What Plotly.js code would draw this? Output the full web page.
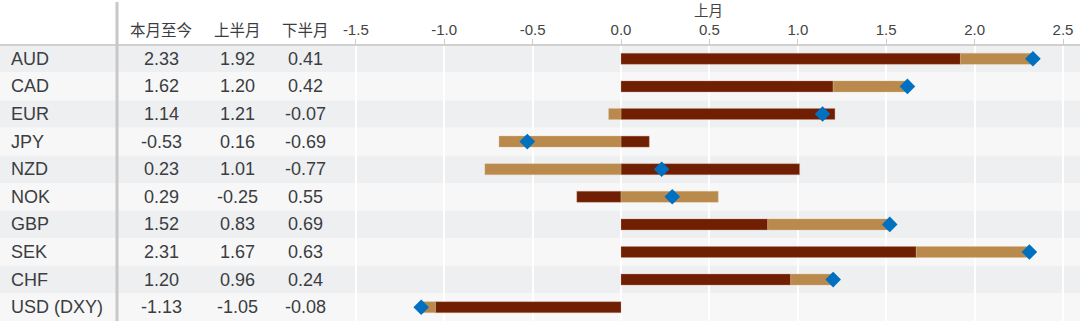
<!DOCTYPE html>
<html>
<head>
<meta charset="utf-8">
<script src="https://cdn.plot.ly/plotly-3.0.1.min.js"></script>
<style>html,body{margin:0;padding:0;background:#fff;}#chart{width:1080px;height:323px;}</style>
</head>
<body>
<div id="chart"></div>
<script>
const currencies = ['AUD','CAD','EUR','JPY','NZD','NOK','GBP','SEK','CHF','USD (DXY)'];
const monthToDate = [2.33, 1.62, 1.14, -0.53, 0.23, 0.29, 1.52, 2.31, 1.20, -1.13];
const firstHalf   = [1.92, 1.20, 1.21, 0.16, 1.01, -0.25, 0.83, 1.67, 0.96, -1.05];
const secondHalf  = [0.41, 0.42, -0.07, -0.69, -0.77, 0.55, 0.69, 0.63, 0.24, -0.08];
const columnHeaders = ['本月至今', '上半月', '下半月'];
const axisTitle = '上月';
const tickValues = [-1.5, -1.0, -0.5, 0.0, 0.5, 1.0, 1.5, 2.0, 2.5];
const tickLabels = ['-1.5', '-1.0', '-0.5', '0.0', '0.5', '1.0', '1.5', '2.0', '2.5'];

const W = 1080, H = 323;
const FONT = 'Liberation Sans, Arial, Noto Sans CJK SC, sans-serif';
const CJK = 'Noto Sans CJK SC, Liberation Sans, sans-serif';
const mT = 45, mB = 2;
const plotH = H - mT - mB;
const px2paperY = p => 1 + (mT - p) / plotH;
const colX = [161, 237, 305];

const traces = [
  {type:'bar', orientation:'h', y: currencies, x: firstHalf, name: columnHeaders[1],
   marker:{color:'#701f03', line:{color:'rgba(200,150,130,0.6)', width:0.6}}, width:0.4, hoverinfo:'skip'},
  {type:'bar', orientation:'h', y: currencies, x: secondHalf, name: columnHeaders[2],
   marker:{color:'#b98a4b', line:{color:'rgba(220,190,150,0.6)', width:0.6}}, width:0.4, hoverinfo:'skip'},
  {type:'scatter', mode:'markers', y: currencies, x: monthToDate, name: columnHeaders[0],
   marker:{symbol:'diamond', size:12, color:'#0070c0'}, hoverinfo:'skip', cliponaxis:false}
];

const shapes = [];
currencies.forEach((c, i) => {
  shapes.push({type:'rect', xref:'paper', yref:'y', x0:0, x1:1, y0:i-0.5, y1:i+0.5,
    fillcolor: i % 2 === 0 ? '#eeeff1' : '#f7f7f7', line:{width:0}, layer:'below'});
});
shapes.push({type:'line', xref:'paper', yref:'paper', x0:0, x1:1, y0:1, y1:1,
  line:{color:'#d0d0d0', width:2}});
shapes.push({type:'line', xref:'paper', yref:'paper', x0:117/W, x1:117/W, y0:0, y1:px2paperY(2),
  line:{color:'#c8c8c8', width:3}});

const annotations = [];
currencies.forEach((c, i) => {
  annotations.push({xref:'paper', yref:'y', x:9/W, y:c, xanchor:'left', yanchor:'middle',
    text:c, showarrow:false, font:{family:FONT, size:18, color:'#3a3d42'}});
  [monthToDate[i], firstHalf[i], secondHalf[i]].forEach((v, j) => {
    annotations.push({xref:'paper', yref:'y', x:colX[j]/W, y:c, xanchor:'center', yanchor:'middle',
      text:v.toFixed(2), showarrow:false, font:{family:FONT, size:18, color:'#3a3d42'}});
  });
});
columnHeaders.forEach((h, j) => {
  annotations.push({xref:'paper', yref:'paper', x:colX[j]/W, y:px2paperY(28.5), xanchor:'center', yanchor:'middle',
    text:h, showarrow:false, font:{family:CJK, size:15.5, color:'#3a3d42'}});
});
// axis title placed as annotation for exact position
annotations.push({xref:'paper', yref:'paper', x:708/W, y:px2paperY(9.5), xanchor:'center', yanchor:'middle',
  text:axisTitle, showarrow:false, font:{family:CJK, size:14.5, color:'#444'}});

const L = 336;
const zeroPx = 621, unitPx = 176.8;
const layout = {
  width: W, height: H,
  margin:{l:0, r:0, t:mT, b:mB, pad:0},
  paper_bgcolor:'#ffffff', plot_bgcolor:'rgba(0,0,0,0)',
  barmode:'relative', showlegend:false,
  font:{family:FONT, color:'#444'},
  xaxis:{domain:[L/W, 1], side:'top', range:[(L-zeroPx)/unitPx, (W-zeroPx)/unitPx],
    tickvals: tickValues, ticktext: tickLabels, ticks:'outside', ticklen:5, tickcolor:'#cccccc', tickwidth:1,
    ticklabelstandoff:-2,
    showgrid:true, gridcolor:'#ffffff', gridwidth:2, zeroline:false, showline:false,
    tickfont:{family:FONT, size:15, color:'#444'}, fixedrange:true},
  yaxis:{type:'category', categoryarray: currencies, range:[currencies.length - 0.5, -0.5], autorange:false,
    showticklabels:false, showgrid:false, zeroline:false, showline:false, ticks:'', fixedrange:true},
  shapes: shapes, annotations: annotations, bargap:0.6
};

Plotly.newPlot('chart', traces, layout, {displayModeBar:false, staticPlot:true});
</script>
</body>
</html>
